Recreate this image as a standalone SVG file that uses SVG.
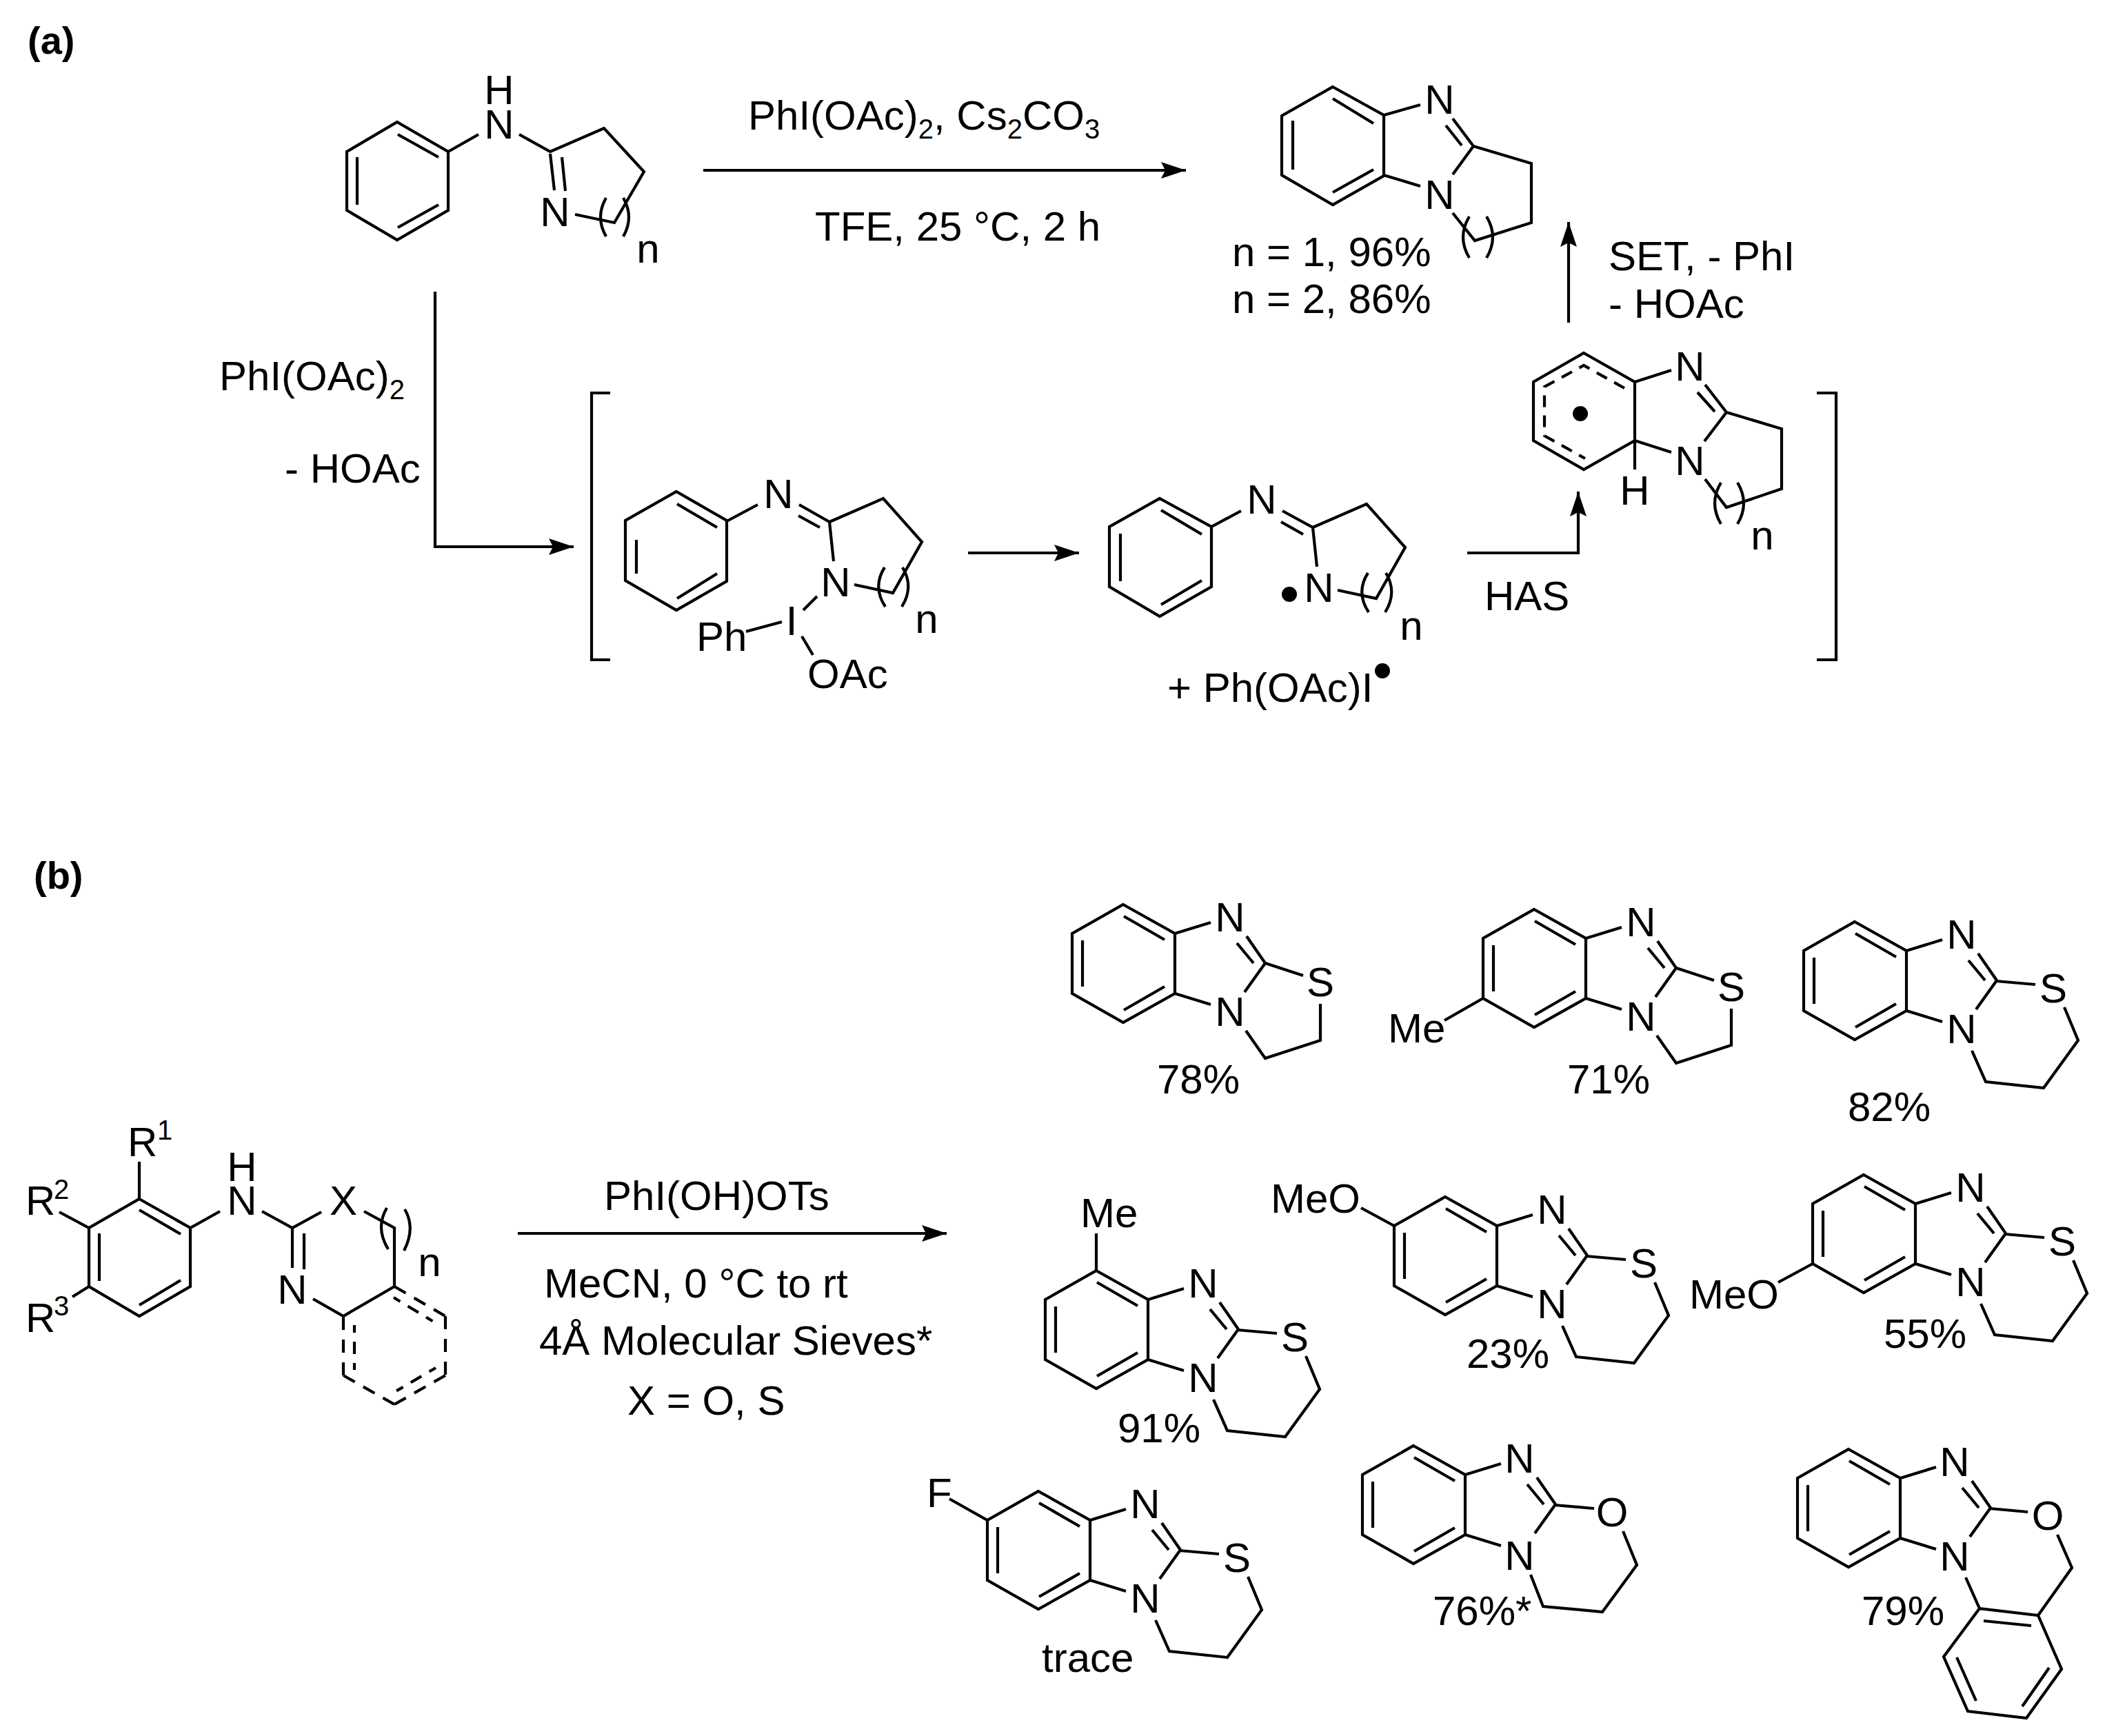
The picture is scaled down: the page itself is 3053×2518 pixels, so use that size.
<svg xmlns="http://www.w3.org/2000/svg" width="3053" height="2518" viewBox="0 0 3053 2518">
<style>
text{font-family:"Liberation Sans",Arial,sans-serif;font-size:60px;fill:#000}
.a{text-anchor:middle}
.h{font-weight:bold;font-size:56px}
.s{font-size:40px}
.b{fill:none;stroke:#000;stroke-width:4.2}
.c{fill:none;stroke:#000;stroke-width:4.2}
.d{fill:none;stroke:#000;stroke-width:4.2;stroke-dasharray:19 14}
.e{fill:none;stroke:#000;stroke-width:4.2;stroke-dasharray:11 13 18 13 11}
</style>
<defs>
<marker id="ah" markerUnits="userSpaceOnUse" markerWidth="40" markerHeight="26" refX="36" refY="12" orient="auto"><path d="M0 0L36 12L0 24L6 12Z" fill="#000"/></marker>
</defs>
<rect width="3053" height="2518" fill="#fff"/>
<g id="panel-labels">
<text class="h" x="40" y="78">(a)</text>
<text class="h" x="49" y="1289">(b)</text>
</g>
<g id="connectors">
<path class="c" d="M1020 247H1720" marker-end="url(#ah)"/>
<path class="c" d="M631 423V793H832" marker-end="url(#ah)"/>
<path class="c" d="M1404 802H1565" marker-end="url(#ah)"/>
<path class="c" d="M2128 802H2289V713" marker-end="url(#ah)"/>
<path class="c" d="M2275 468V322" marker-end="url(#ah)"/>
<path class="c" d="M751 1789H1373" marker-end="url(#ah)"/>
<path class="c" d="M885 570H858V957H885"/>
<path class="c" d="M2635 570H2663V957H2635"/>
</g>
<g id="reaction-labels">
<text x="1085" y="188">PhI(OAc)<tspan class="s" dy="13">2</tspan><tspan dy="-13">, Cs</tspan><tspan class="s" dy="13">2</tspan><tspan dy="-13">CO</tspan><tspan class="s" dy="13">3</tspan></text>
<text x="1182" y="349">TFE, 25 °C, 2 h</text>
<text x="318" y="566">PhI(OAc)<tspan class="s" dy="13">2</tspan></text>
<text x="413" y="700">- HOAc</text>
<text x="2333" y="392">SET, - PhI</text>
<text x="2333" y="461">- HOAc</text>
<text x="2153" y="885">HAS</text>
<text x="1787" y="386">n = 1, 96%</text>
<text x="1787" y="454">n = 2, 86%</text>
<text x="876" y="1755">PhI(OH)OTs</text>
<text x="789" y="1882">MeCN, 0 °C to rt</text>
<text x="782" y="1965">4Å Molecular Sieves*</text>
<text x="910" y="2052">X = O, S</text>
</g>
<g id="substrate-a">
<path class="b" d="M576 177L650 220V305L576 348L503 305V220Z M577 195L636 228 M518 228V297 M577 330L636 297 M650 220L694 195 M753 195L798 220L876 186L934 249L891 323L834 311 M798 223L804 276 M815 228L820 277 M879 287Q863 315 879 343 M904 287Q920 315 904 343"/>
<text class="a" x="724" y="151">H</text><text class="a" x="724" y="201">N</text><text class="a" x="805" y="328">N</text><text class="a" x="940" y="381">n</text>
</g>
<g id="product-a">
<path class="b" d="M1933 126L2007 167V255L1933 297L1859 254V168Z M1933 143L1992 179 M1875 175V246 M1933 279L1992 246 M2007 167L2060 152 M2107 172L2137 212 M2097 182L2120 211 M2137 212L2107 253 M2007 254L2060 270 M2137 212L2221 237V323L2139 349L2107 309 M2131 314Q2113 344 2131 374 M2156 314Q2174 344 2156 374"/>
<text class="a" x="2088" y="165">N</text><text class="a" x="2088" y="303">N</text>
</g>
<g id="intermediate-1">
<path class="b" d="M981 713L1054 755V843L981 885L907 842V755Z M982 731L1040 765 M923 783V832 M982 868L1040 832 M1054 756L1099 732 M1159 732L1203 757 M1158 748L1189 765 M1203 757L1281 723L1337 786L1295 860L1239 848 M1203 757L1209 814 M1185 865L1165 885 M1082 916L1134 902 M1163 923L1179 950 M1283 823Q1265 851 1284 880 M1309 823Q1326 851 1308 880"/>
<text class="a" x="1129" y="737">N</text><text class="a" x="1212" y="865">N</text><text class="a" x="1344" y="918">n</text><text class="a" x="1148" y="921">I</text><text x="1010" y="944">Ph</text><text x="1171" y="998">OAc</text>
</g>
<g id="intermediate-2">
<path class="b" d="M1682 723L1757 764V851L1682 894L1609 851V764Z M1684 740L1743 775 M1625 774V843 M1684 877L1743 842 M1757 764L1800 741 M1860 741L1904 765 M1858 757L1890 775 M1904 765L1982 731L2038 794L1996 868L1940 856 M1904 765L1910 822 M1984 831Q1966 859 1985 888 M2010 831Q2027 859 2009 888"/>
<circle cx="1870" cy="862" r="11"/>
<text class="a" x="1830" y="745">N</text><text class="a" x="1913" y="873">N</text><text class="a" x="2047" y="928">n</text>
<text x="1693" y="1018">+ Ph(OAc)I</text><circle cx="2005" cy="973" r="11"/>
</g>
<g id="intermediate-3">
<path class="b" d="M2297 512L2371 554V639L2297 681L2224 639V554Z M2371 639V681 M2371 554L2424 537 M2473 558L2504 598 M2462 569L2487 597 M2504 598L2584 622V709L2504 736L2473 695 M2504 598L2472 640 M2371 639L2424 656 M2496 700Q2478 730 2496 760 M2520 700Q2538 730 2520 760"/>
<path class="b" d="M2356 563L2297 530L2240 561V632L2299 665" style="stroke-dasharray:17 12"/>
<circle cx="2292" cy="600" r="11"/>
<text class="a" x="2451" y="552">N</text><text class="a" x="2451" y="689">N</text><text class="a" x="2371" y="732">H</text><text class="a" x="2556" y="797">n</text>
</g>
<g id="substrate-b">
<path class="b" d="M202 1739L276 1781V1866L202 1909L129 1866V1781Z M202 1755L262 1790 M144 1789V1858 M202 1893L262 1857 M202 1739V1685 M86 1758L129 1781 M105 1881L129 1866 M276 1781L319 1757 M380 1757L424 1781L466 1758 M528 1757L572 1781V1866 M424 1781V1839 M441 1789V1841 M454 1884L498 1909L572 1866 M561 1752Q544 1781 563 1812 M587 1754Q603 1781 586 1814"/>
<path class="d" d="M572 1866L646 1909"/><path class="d" d="M646 1909V1995"/><path class="d" d="M646 1995L572 2037"/><path class="d" d="M572 2037L498 1995"/><path class="d" d="M498 1995V1909"/>
<path class="e" d="M571 1882L632 1919"/><path class="e" d="M632 1984L574 2018"/><path class="e" d="M514 1922V1987"/>
<text x="185" y="1677">R</text><text class="s" x="228" y="1653">1</text>
<text x="37" y="1762">R</text><text class="s" x="78" y="1739">2</text>
<text x="37" y="1932">R</text><text class="s" x="78" y="1908">3</text>
<text class="a" x="351" y="1713">H</text><text class="a" x="351" y="1762">N</text><text class="a" x="498" y="1762">X</text><text class="a" x="424" y="1891">N</text><text class="a" x="623" y="1851">n</text>
</g>
<g id="product-78" transform="translate(1629 1312)">
<path class="b" d="M0 0L75 42V129L0 171L-74 129V42Z M1 17L60 51 M-59 52V119 M1 153L60 119 M75 42L127 26 M179 46L206 85 M165 56L189 85 M206 85L176 127 M75 129L127 145 M206 85L261 103 M286 144V197L206 223L178 183"/>
<text class="a" x="155" y="39">N</text><text class="a" x="155" y="176">N</text><text class="a" x="286" y="133">S</text>
<text x="49" y="274">78%</text>
</g>
<g id="product-71" transform="translate(2225 1319)">
<path class="b" d="M0 0L75 42V129L0 171L-74 129V42Z M1 17L60 51 M-59 52V119 M1 153L60 119 M75 42L127 26 M179 46L206 85 M165 56L189 85 M206 85L176 127 M75 129L127 145 M206 85L261 103 M286 144V197L206 223L178 183 M-74 129L-130 161"/>
<text class="a" x="155" y="39">N</text><text class="a" x="155" y="176">N</text><text class="a" x="286" y="133">S</text>
<text x="-212" y="193">Me</text><text x="48" y="267">71%</text>
</g>
<g id="product-82" transform="translate(2690 1337)">
<path class="b" d="M0 0L75 42V129L0 171L-74 129V42Z M1 17L60 51 M-59 52V119 M1 153L60 119 M75 42L127 26 M179 46L206 85 M165 56L189 85 M206 85L176 127 M75 129L127 145 M205 86L262 91 M304 124L324 172L274 241L190 232L170 187"/>
<text class="a" x="155" y="39">N</text><text class="a" x="155" y="176">N</text><text class="a" x="288" y="117">S</text>
<text x="-10" y="289">82%</text>
</g>
<g id="product-91" transform="translate(1590 1843)">
<path class="b" d="M0 0L75 42V129L0 171L-74 129V42Z M1 17L60 51 M-59 52V119 M1 153L60 119 M75 42L127 26 M179 46L206 85 M165 56L189 85 M206 85L176 127 M75 129L127 145 M205 86L262 91 M304 124L324 172L274 241L190 232L170 187 M0 0V-54"/>
<text class="a" x="155" y="39">N</text><text class="a" x="155" y="176">N</text><text class="a" x="288" y="117">S</text>
<text x="-23" y="-63">Me</text><text x="31" y="249">91%</text>
</g>
<g id="product-23" transform="translate(2096 1736)">
<path class="b" d="M0 0L75 42V129L0 171L-74 129V42Z M1 17L60 51 M-59 52V119 M1 153L60 119 M75 42L127 26 M179 46L206 85 M165 56L189 85 M206 85L176 127 M75 129L127 145 M205 86L262 91 M304 124L324 172L274 241L190 232L170 187 M-74 42L-122 16"/>
<text class="a" x="155" y="39">N</text><text class="a" x="155" y="176">N</text><text class="a" x="288" y="117">S</text>
<text x="-253" y="23">MeO</text><text x="31" y="248">23%</text>
</g>
<g id="product-55" transform="translate(2703 1704)">
<path class="b" d="M0 0L75 42V129L0 171L-74 129V42Z M1 17L60 51 M-59 52V119 M1 153L60 119 M75 42L127 26 M179 46L206 85 M165 56L189 85 M206 85L176 127 M75 129L127 145 M205 86L262 91 M304 124L324 172L274 241L190 232L170 187 M-74 129L-124 156"/>
<text class="a" x="155" y="39">N</text><text class="a" x="155" y="176">N</text><text class="a" x="288" y="117">S</text>
<text x="-253" y="194">MeO</text><text x="29" y="251">55%</text>
</g>
<g id="product-trace" transform="translate(1506 2163)">
<path class="b" d="M0 0L75 42V129L0 171L-74 129V42Z M1 17L60 51 M-59 52V119 M1 153L60 119 M75 42L127 26 M179 46L206 85 M165 56L189 85 M206 85L176 127 M75 129L127 145 M205 86L262 91 M304 124L324 172L274 241L190 232L170 187 M-74 42L-129 11"/>
<text class="a" x="155" y="39">N</text><text class="a" x="155" y="176">N</text><text class="a" x="288" y="117">S</text>
<text x="-162" y="23">F</text><text x="5" y="262">trace</text>
</g>
<g id="product-76" transform="translate(2050 2097)">
<path class="b" d="M0 0L75 42V129L0 171L-74 129V42Z M1 17L60 51 M-59 52V119 M1 153L60 119 M75 42L127 26 M179 46L206 85 M165 56L189 85 M206 85L176 127 M75 129L127 145 M205 86L262 91 M304 124L324 173L274 241L188 233L170 187"/>
<text class="a" x="154" y="39">N</text><text class="a" x="154" y="180">N</text><text class="a" x="288" y="117">O</text>
<text x="28" y="260">76%*</text>
</g>
<g id="product-79" transform="translate(2681 2102)">
<path class="b" d="M0 0L75 42V129L0 171L-74 129V42Z M1 17L60 51 M-59 52V119 M1 153L60 119 M75 42L127 26 M179 46L206 85 M165 56L189 85 M206 85L176 127 M75 129L127 145 M205 86L260 91 M303 124L324 172L275 241L190 231L170 186 M190 231L138 301L173 380L258 390L309 319L275 241 M196 249L265 256 M157 302L185 365 M291 317L252 373"/>
<text class="a" x="154" y="39">N</text><text class="a" x="154" y="176">N</text><text class="a" x="289" y="117">O</text>
<text x="19" y="255">79%</text>
</g>
</svg>
